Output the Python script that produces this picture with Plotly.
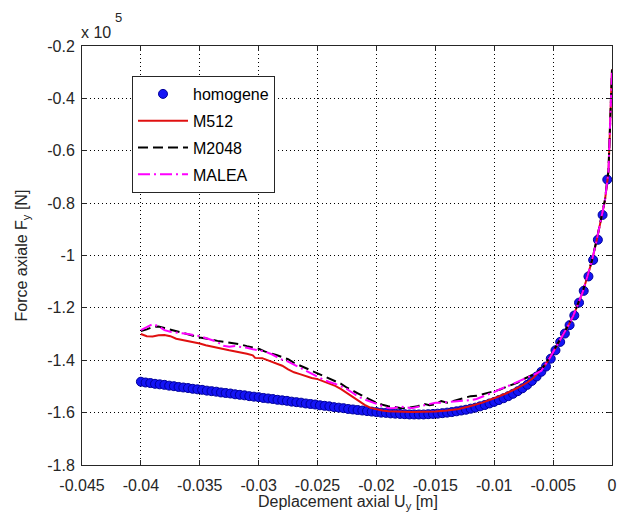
import plotly.graph_objects as go

# ---------------- data (force in units of 1e5 N) ----------------
hom_x = [-0.0400, -0.0396, -0.0392, -0.0388, -0.0384, -0.0380, -0.0376, -0.0372, -0.0368, -0.0364,
         -0.0360, -0.0356, -0.0352, -0.0348, -0.0344, -0.0340, -0.0336, -0.0332, -0.0328, -0.0324,
         -0.0320, -0.0316, -0.0312, -0.0308, -0.0304, -0.0300, -0.0296, -0.0292, -0.0288, -0.0284,
         -0.0280, -0.0276, -0.0272, -0.0268, -0.0264, -0.0260, -0.0256, -0.0252, -0.0248, -0.0244,
         -0.0240, -0.0236, -0.0232, -0.0228, -0.0224, -0.0220, -0.0216, -0.0212, -0.0208, -0.0204,
         -0.0200, -0.0196, -0.0192, -0.0188, -0.0184, -0.0180, -0.0176, -0.0172, -0.0168, -0.0164,
         -0.0160, -0.0156, -0.0152, -0.0148, -0.0144, -0.0140, -0.0136, -0.0132, -0.0128, -0.0124,
         -0.0120, -0.0116, -0.0112, -0.0108, -0.0104, -0.0100, -0.0096, -0.0092, -0.0088, -0.0084,
         -0.0080, -0.0076, -0.0072, -0.0068, -0.0064, -0.0060, -0.0056, -0.0052, -0.0048, -0.0044,
         -0.0040, -0.0036, -0.0032, -0.0028, -0.0024, -0.0020, -0.0016, -0.0012, -0.0008, -0.0004]
hom_y = [-1.482, -1.485, -1.487, -1.490, -1.492, -1.494, -1.497, -1.499, -1.502, -1.504,
         -1.506, -1.509, -1.511, -1.513, -1.516, -1.518, -1.520, -1.523, -1.525, -1.527,
         -1.530, -1.532, -1.534, -1.537, -1.539, -1.541, -1.544, -1.546, -1.548, -1.551,
         -1.553, -1.555, -1.558, -1.560, -1.562, -1.565, -1.567, -1.569, -1.572, -1.574,
         -1.576, -1.579, -1.581, -1.583, -1.586, -1.588, -1.590, -1.592, -1.594, -1.596,
         -1.598, -1.600, -1.601, -1.603, -1.604, -1.605, -1.606, -1.607, -1.607, -1.607,
         -1.607, -1.606, -1.605, -1.604, -1.602, -1.600, -1.598, -1.595, -1.592, -1.589,
         -1.585, -1.581, -1.576, -1.571, -1.565, -1.559, -1.552, -1.545, -1.537, -1.528,
         -1.518, -1.507, -1.494, -1.479, -1.462, -1.444, -1.424, -1.394, -1.362, -1.330,
         -1.298, -1.266, -1.229, -1.180, -1.135, -1.080, -1.017, -0.940, -0.845, -0.710]

m512_x = [-0.0400, -0.0395, -0.0390, -0.0385, -0.0380, -0.0375, -0.0370, -0.0365, -0.0360, -0.0355,
          -0.0350, -0.0345, -0.0340, -0.0335, -0.0330, -0.0325, -0.0320, -0.0315, -0.0310, -0.0305,
          -0.0303, -0.0297, -0.0290, -0.0285, -0.0280, -0.0275, -0.0270, -0.0265, -0.0260, -0.0255,
          -0.0250, -0.0245, -0.0240, -0.0235, -0.0230, -0.0225, -0.0220, -0.0215, -0.0210, -0.0205,
          -0.0200, -0.0195, -0.0190, -0.0180, -0.0170, -0.0160, -0.0150, -0.0140, -0.0130, -0.0120,
          -0.0110, -0.0100, -0.0090, -0.0080, -0.0072, -0.0067, -0.0062, -0.0057, -0.0053, -0.0049,
          -0.0045, -0.0041, -0.0037, -0.0033, -0.0029, -0.0025, -0.0021, -0.0017, -0.0013, -0.0009,
          -0.0006, -0.0003, -0.0001, 0.0]
m512_y = [-1.300, -1.308, -1.309, -1.305, -1.304, -1.308, -1.318, -1.322, -1.326, -1.330,
          -1.336, -1.343, -1.347, -1.352, -1.357, -1.362, -1.366, -1.370, -1.375, -1.381,
          -1.391, -1.392, -1.405, -1.414, -1.421, -1.435, -1.446, -1.453, -1.462, -1.468,
          -1.472, -1.480, -1.490, -1.498, -1.510, -1.525, -1.540, -1.556, -1.570, -1.582,
          -1.588, -1.592, -1.595, -1.597, -1.598, -1.597, -1.596, -1.592, -1.586, -1.575,
          -1.562, -1.545, -1.527, -1.505, -1.485, -1.468, -1.445, -1.420, -1.392, -1.362,
          -1.332, -1.299, -1.267, -1.232, -1.187, -1.142, -1.082, -1.020, -0.942, -0.860,
          -0.790, -0.680, -0.450, -0.290]

m2048_x = [-0.0400, -0.0395, -0.0390, -0.0385, -0.0380, -0.0375, -0.0370, -0.0365, -0.0360, -0.0355,
           -0.0350, -0.0345, -0.0340, -0.0335, -0.0330, -0.0325, -0.0320, -0.0315, -0.0310, -0.0305,
           -0.0300, -0.0295, -0.0290, -0.0285, -0.0280, -0.0275, -0.0270, -0.0265, -0.0260, -0.0255,
           -0.0250, -0.0245, -0.0240, -0.0235, -0.0230, -0.0225, -0.0220, -0.0215, -0.0210, -0.0205,
           -0.0200, -0.0195, -0.0190, -0.0185, -0.0180, -0.0175, -0.0170, -0.0165, -0.0160, -0.0155,
           -0.0150, -0.0145, -0.0140, -0.0135, -0.0130, -0.0125, -0.0120, -0.0115, -0.0110, -0.0105,
           -0.0100, -0.0095, -0.0090, -0.0085, -0.0080, -0.0075, -0.0070, -0.0065, -0.0060, -0.0057,
           -0.0053, -0.0049, -0.0045, -0.0041, -0.0037, -0.0033, -0.0029, -0.0025, -0.0021, -0.0017,
           -0.0013, -0.0009, -0.0006, -0.0003, -0.0001, 0.0]
m2048_y = [-1.288, -1.282, -1.273, -1.271, -1.277, -1.283, -1.290, -1.295, -1.300, -1.306,
           -1.313, -1.317, -1.322, -1.326, -1.329, -1.333, -1.335, -1.340, -1.346, -1.350,
           -1.356, -1.366, -1.372, -1.380, -1.388, -1.396, -1.410, -1.420, -1.430, -1.440,
           -1.450, -1.460, -1.470, -1.478, -1.490, -1.505, -1.515, -1.528, -1.540, -1.552,
           -1.562, -1.570, -1.576, -1.578, -1.582, -1.583, -1.580, -1.576, -1.566, -1.572,
           -1.568, -1.556, -1.562, -1.556, -1.549, -1.545, -1.537, -1.536, -1.530, -1.526,
           -1.519, -1.512, -1.502, -1.494, -1.485, -1.472, -1.462, -1.450, -1.435, -1.418,
           -1.390, -1.360, -1.330, -1.298, -1.265, -1.230, -1.185, -1.140, -1.080, -1.018,
           -0.940, -0.858, -0.788, -0.675, -0.440, -0.290]

malea_x = [-0.0400, -0.0395, -0.0390, -0.0385, -0.0380, -0.0375, -0.0370, -0.0365, -0.0360, -0.0355,
           -0.0350, -0.0345, -0.0340, -0.0335, -0.0330, -0.0325, -0.0320, -0.0315, -0.0310, -0.0305,
           -0.0300, -0.0295, -0.0290, -0.0285, -0.0280, -0.0275, -0.0270, -0.0265, -0.0260, -0.0255,
           -0.0250, -0.0245, -0.0240, -0.0235, -0.0230, -0.0225, -0.0220, -0.0215, -0.0210, -0.0205,
           -0.0200, -0.0195, -0.0190, -0.0185, -0.0180, -0.0175, -0.0170, -0.0165, -0.0160, -0.0155,
           -0.0150, -0.0145, -0.0140, -0.0135, -0.0130, -0.0125, -0.0120, -0.0115, -0.0110, -0.0105,
           -0.0100, -0.0095, -0.0090, -0.0085, -0.0080, -0.0075, -0.0070, -0.0065, -0.0060, -0.0057,
           -0.0053, -0.0049, -0.0045, -0.0041, -0.0037, -0.0033, -0.0029, -0.0025, -0.0021, -0.0017,
           -0.0013, -0.0009, -0.0006, -0.0003, -0.0001, 0.0]
malea_y = [-1.285, -1.275, -1.262, -1.270, -1.285, -1.291, -1.295, -1.297, -1.300, -1.303,
           -1.308, -1.315, -1.322, -1.330, -1.345, -1.348, -1.346, -1.348, -1.352, -1.358,
           -1.362, -1.366, -1.375, -1.386, -1.398, -1.405, -1.418, -1.428, -1.440, -1.452,
           -1.465, -1.474, -1.483, -1.490, -1.500, -1.510, -1.525, -1.540, -1.550, -1.558,
           -1.565, -1.575, -1.583, -1.582, -1.577, -1.580, -1.583, -1.578, -1.572, -1.566,
           -1.562, -1.562, -1.560, -1.558, -1.556, -1.555, -1.552, -1.548, -1.538, -1.530,
           -1.522, -1.510, -1.502, -1.492, -1.485, -1.475, -1.462, -1.452, -1.440, -1.420,
           -1.392, -1.361, -1.331, -1.299, -1.266, -1.231, -1.186, -1.141, -1.081, -1.019,
           -0.941, -0.859, -0.789, -0.678, -0.445, -0.290]

x_ticks = [-0.045, -0.04, -0.035, -0.03, -0.025, -0.02, -0.015, -0.01, -0.005, 0.0]
x_tick_labels = ["-0.045", "-0.04", "-0.035", "-0.03", "-0.025", "-0.02", "-0.015", "-0.01", "-0.005", "0"]
y_ticks = [-1.8, -1.6, -1.4, -1.2, -1.0, -0.8, -0.6, -0.4, -0.2]
y_tick_labels = ["-1.8", "-1.6", "-1.4", "-1.2", "-1", "-0.8", "-0.6", "-0.4", "-0.2"]

FONT = "Liberation Sans, Arial, sans-serif"
AX = "#262626"

W, H = 618, 522
ML, MR, MT, MB = 82, 6, 46, 57
PH = H - MT - MB  # 419
PW = W - ML - MR


def px_x(page_x):
    return (page_x - ML) / PW


def px_y(page_y):
    return (H - MB - page_y) / PH


fig = go.Figure()
fig.add_trace(go.Scatter(
    x=hom_x, y=hom_y, mode="markers", name="homogene", legendgroup="a",
    marker=dict(symbol="circle", size=9, color="#1414f5", line=dict(color="#00009a", width=1)),
))
fig.add_trace(go.Scatter(
    x=m512_x, y=m512_y, mode="lines", name="M512", legendgroup="b",
    line=dict(color="#e01010", width=2),
))
fig.add_trace(go.Scatter(
    x=m2048_x, y=m2048_y, mode="lines", name="M2048", legendgroup="c",
    line=dict(color="#000000", width=2, dash="10px,5px"),
))
fig.add_trace(go.Scatter(
    x=malea_x, y=malea_y, mode="lines", name="MALEA", legendgroup="d",
    line=dict(color="#ff00ff", width=2, dash="12px,4px,2px,4px"),
))

axis_common = dict(
    showgrid=True, gridcolor="#000000", gridwidth=1, griddash="1px,3px",
    showline=True, linecolor=AX, linewidth=1, mirror="ticks",
    ticks="inside", ticklen=5, tickcolor=AX, tickwidth=1,
    zeroline=False, automargin=False,
    tickfont=dict(family=FONT, size=16, color=AX),
)

fig.update_layout(
    width=W, height=H,
    margin=dict(l=ML, r=MR, t=MT, b=MB),
    paper_bgcolor="white", plot_bgcolor="white",
    font=dict(family=FONT, size=16, color=AX),
    xaxis=dict(range=[-0.045, 0], tickmode="array", tickvals=x_ticks, ticktext=x_tick_labels,
               ticklabelstandoff=6, **axis_common),
    yaxis=dict(range=[-1.8, -0.2], tickmode="array", tickvals=y_ticks, ticktext=y_tick_labels,
               ticklabelstandoff=3, **axis_common),
    showlegend=True,
    legend=dict(
        x=px_x(132), y=px_y(76), xanchor="left", yanchor="top",
        bgcolor="white", bordercolor=AX, borderwidth=1,
        font=dict(family=FONT, size=16, color="#000000"),
        tracegroupgap=3, itemwidth=50,
    ),
    annotations=[
        dict(text="Deplacement axial U<sub>y</sub> [m]", xref="paper", yref="paper",
             x=px_x(348), y=px_y(502), xanchor="center", yanchor="middle",
             showarrow=False, font=dict(family=FONT, size=16, color=AX)),
        dict(text="Force axiale F<sub>y</sub> [N]", xref="paper", yref="paper",
             x=px_x(22), y=0.5, xanchor="center", yanchor="middle", textangle=-90,
             showarrow=False, font=dict(family=FONT, size=16, color=AX)),
        dict(text="x 10", xref="paper", yref="paper",
             x=px_x(79), y=px_y(33), xanchor="left", yanchor="middle",
             showarrow=False, font=dict(family=FONT, size=16, color=AX)),
        dict(text="5", xref="paper", yref="paper",
             x=px_x(113), y=px_y(17), xanchor="left", yanchor="middle",
             showarrow=False, font=dict(family=FONT, size=13, color=AX)),
    ],
)

fig.write_html(
    "out.html",
    config={"displayModeBar": False},
    post_script="document.body.style.margin='0';document.body.style.overflow='hidden';",
)
